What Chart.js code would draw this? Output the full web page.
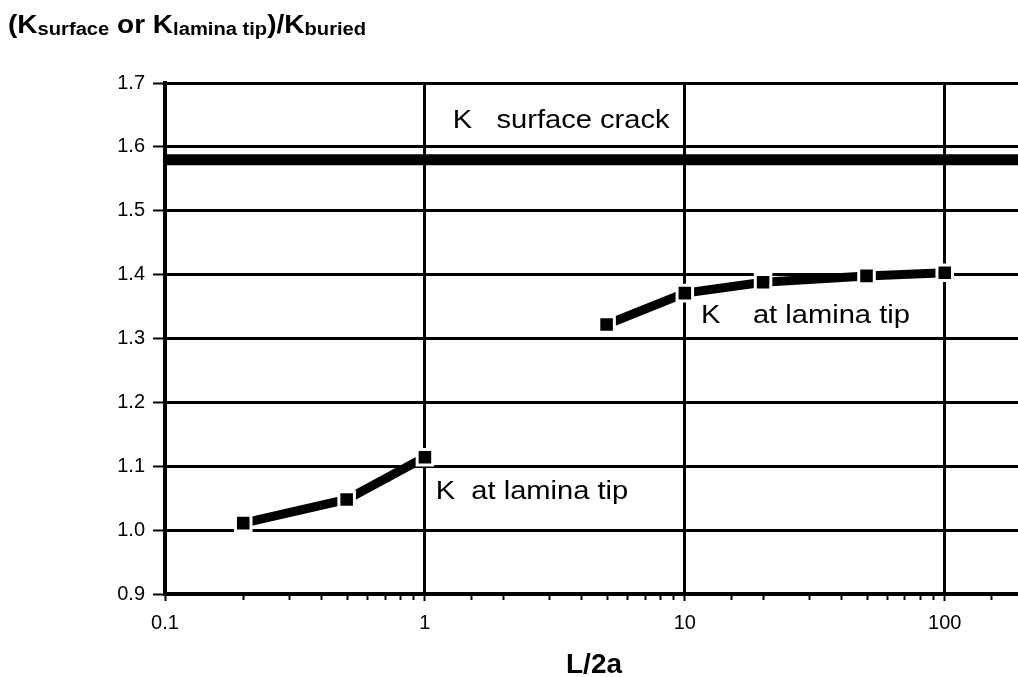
<!DOCTYPE html>
<html>
<head>
<meta charset="utf-8">
<script src="https://cdn.jsdelivr.net/npm/chart.js@4"></script>
<style>
  html, body { margin: 0; padding: 0; background: #fff; overflow: hidden; }
  #wrap { position: relative; width: 1018px; height: 677px; overflow: hidden; }
  #c { position: absolute; left: 0; top: 0; }
  .ttl {
    position: absolute; font-family: "Liberation Sans", Arial, sans-serif;
    font-weight: bold; color: #000; white-space: nowrap; transform-origin: 0 0;
  }
  #ytitle { left: 8px; top: 12px; font-size: 25px; line-height: 25px; transform: scaleX(1.12); }
  #ytitle sub { font-size: 18px; vertical-align: -2px; }
  #xtitle { left: 566px; top: 650px; font-size: 28px; line-height: 28px; }
</style>
</head>
<body>
<div id="wrap">
  <canvas id="c" width="1037" height="677"></canvas>
  <div id="ytitle" class="ttl">(K<sub>surface</sub> or K<sub>lamina tip</sub>)/K<sub>buried</sub></div>
  <div id="xtitle" class="ttl">L/2a</div>
</div>
<script>
// data
const lowerX = [0.2, 0.5, 1];
const lowerY = [1.011, 1.048, 1.114];
const upperX = [5, 10, 20, 50, 100];
const upperY = [1.322, 1.371, 1.388, 1.398, 1.403];
const surfaceX = [0.1, 200];
const surfaceY = [1.58, 1.58];

const xRange = [0.1, 200];
const yRange = [0.9, 1.7];
const yStep = 0.1;

// text notes placed in data units: [text, x, y]
const notes = [
  ["K   surface crack", 1.28, 1.63],
  ["K    at lamina tip", 11.55, 1.325],
  ["K  at lamina tip", 1.1, 1.048],
];

const FONT = '"Liberation Sans", Arial, sans-serif';

function pts(xs, ys) {
  return xs.map((x, i) => ({ x, y: ys[i] }));
}

function isPow10(v) {
  const l = Math.log10(v);
  return Math.abs(l - Math.round(l)) < 1e-9;
}

const notesPlugin = {
  id: "notes",
  afterDatasetsDraw(chart) {
    const { ctx, scales } = chart;
    ctx.save();
    ctx.fillStyle = "#000";
    ctx.font = `26px ${FONT}`;
    ctx.textBaseline = "alphabetic";
    ctx.textAlign = "left";
    for (const [text, x, y] of notes) {
      ctx.save();
      ctx.translate(scales.x.getPixelForValue(x), scales.y.getPixelForValue(y));
      ctx.scale(1.12, 1);
      ctx.fillText(text, 0, 0);
      ctx.restore();
    }
    ctx.restore();
  },
};

// short minor ticks under the log axis
const minorTicks = {
  id: "minorTicks",
  afterDraw(chart) {
    const { ctx, scales, chartArea } = chart;
    const sx = scales.x;
    ctx.save();
    ctx.strokeStyle = "#000";
    ctx.lineWidth = 2;
    for (const t of sx.ticks) {
      if (isPow10(t.value)) continue;
      const px = Math.round(sx.getPixelForValue(t.value)) + 0.5;
      ctx.beginPath();
      ctx.moveTo(px, chartArea.bottom + 2);
      ctx.lineTo(px, chartArea.bottom + 6);
      ctx.stroke();
    }
    ctx.restore();
  },
};

const seriesStyle = {
  borderColor: "#000",
  borderWidth: 9,
  pointStyle: "rect",
  pointRadius: 11,
  pointHoverRadius: 11,
  pointBackgroundColor: "#000",
  pointBorderColor: "#fff",
  pointBorderWidth: 3,
  showLine: true,
  fill: false,
};

new Chart(document.getElementById("c"), {
  type: "line",
  data: {
    datasets: [
      {
        data: pts(surfaceX, surfaceY),
        borderColor: "#000",
        borderWidth: 11,
        pointRadius: 0,
        fill: false,
      },
      { data: pts(lowerX, lowerY), ...seriesStyle },
      { data: pts(upperX, upperY), ...seriesStyle },
    ],
  },
  options: {
    responsive: false,
    animation: false,
    devicePixelRatio: 1,
    layout: { padding: { top: 83, right: 2, bottom: 0, left: 0 } },
    plugins: { legend: { display: false }, tooltip: { enabled: false } },
    scales: {
      x: {
        type: "logarithmic",
        min: xRange[0],
        max: xRange[1],
        afterFit: (s) => { s.height = 83; },
        border: { display: true, color: "#000", width: 4 },
        grid: {
          color: (c) => (c.tick && isPow10(c.tick.value) ? "#000" : "rgba(0,0,0,0)"),
          tickColor: (c) => (c.tick && isPow10(c.tick.value) ? "#000" : "rgba(0,0,0,0)"),
          lineWidth: 3,
          tickWidth: 2,
          tickLength: 7,
        },
        ticks: {
          autoSkip: false,
          maxRotation: 0,
          padding: 10,
          color: "#000",
          font: { family: FONT, size: 20 },
          callback: (v) => (isPow10(v) ? String(v) : ""),
        },
      },
      y: {
        min: yRange[0],
        max: yRange[1],
        afterFit: (s) => { s.width = 165; },
        border: { display: true, color: "#000", width: 4 },
        grid: { color: "#000", lineWidth: 3, tickWidth: 2, tickLength: 12 },
        ticks: {
          stepSize: yStep,
          padding: 8,
          color: "#000",
          font: { family: FONT, size: 20 },
          callback: (v) => Number(v).toFixed(1),
        },
      },
    },
  },
  plugins: [notesPlugin, minorTicks],
});
</script>
</body>
</html>
